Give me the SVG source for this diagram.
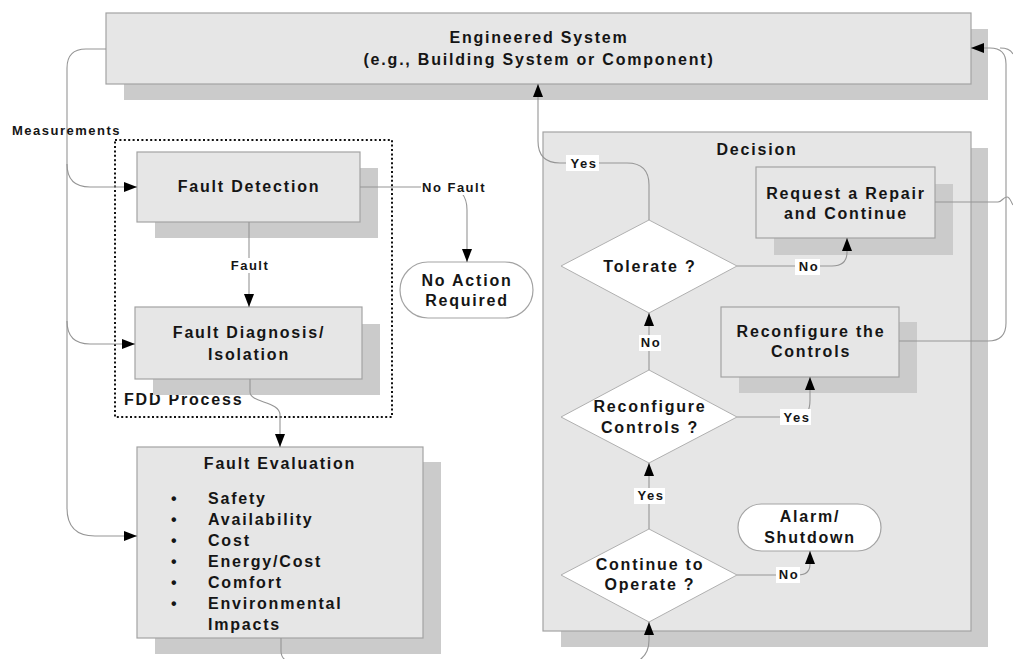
<svg xmlns="http://www.w3.org/2000/svg" width="1013" height="659" viewBox="0 0 1013 659">
<defs>
<style>
.box{fill:#e6e6e6;stroke:#a3a3a3;stroke-width:1.2}
.sh{fill:#cbcbcb}
.pill{fill:#ffffff;stroke:#a3a3a3;stroke-width:1.2}
.dia{fill:#ffffff;stroke:#b0b0b0;stroke-width:1}
.t{font-family:"Liberation Sans",Arial,sans-serif;font-weight:bold;font-size:16px;letter-spacing:1.8px;fill:#151515;text-anchor:middle}
.ts{font-family:"Liberation Sans",Arial,sans-serif;font-weight:bold;font-size:13px;letter-spacing:1.5px;fill:#151515;text-anchor:middle}
.tl{text-anchor:start}
.c{fill:none;stroke:#959595;stroke-width:1.1}
.lb{fill:#ffffff}
</style>
<marker id="ah" viewBox="0 0 13 10" refX="13" refY="5" markerWidth="13" markerHeight="10" markerUnits="userSpaceOnUse" orient="auto">
<path d="M0,0 L13,5 L0,10 z" fill="#000"/>
</marker>
</defs>
<rect width="1013" height="659" fill="#ffffff"/>

<g id="engineered-system">
<rect class="sh" x="124" y="29" width="864" height="71"/>
<rect class="box" x="106" y="13" width="865" height="71"/>
<text class="t" x="539" y="43">Engineered System</text>
<text class="t" x="539" y="65">(e.g., Building System or Component)</text>
</g>

<g id="fdd-process">
<rect x="115" y="140" width="277" height="277" fill="none" stroke="#111" stroke-width="2" stroke-dasharray="2 2.4"/>
<text class="t tl" x="124" y="405">FDD Process</text>
</g>

<g id="fault-detection">
<rect class="sh" x="155" y="168" width="223" height="70"/>
<rect class="box" x="137" y="152" width="223" height="70"/>
<text class="t" x="249" y="192">Fault Detection</text>
</g>

<g id="fault-diagnosis">
<rect class="sh" x="153" y="324" width="227" height="71"/>
<rect class="box" x="135" y="307" width="227" height="72"/>
<text class="t" x="249" y="338">Fault Diagnosis/</text>
<text class="t" x="249" y="360">Isolation</text>
</g>

<g id="no-action">
<rect class="pill" x="400" y="262" width="133" height="56" rx="28" ry="28"/>
<text class="t" x="467" y="286">No Action</text>
<text class="t" x="467" y="306">Required</text>
</g>

<g id="fault-evaluation">
<rect class="sh" x="155" y="462" width="286" height="192"/>
<rect class="box" x="137" y="447" width="286" height="191"/>
<text class="t" x="280" y="469">Fault Evaluation</text>
<text class="t tl" x="171" y="504">•</text>
<text class="t tl" x="171" y="525">•</text>
<text class="t tl" x="171" y="546">•</text>
<text class="t tl" x="171" y="567">•</text>
<text class="t tl" x="171" y="588">•</text>
<text class="t tl" x="171" y="609">•</text>
<text class="t tl" x="208" y="504">Safety</text>
<text class="t tl" x="208" y="525">Availability</text>
<text class="t tl" x="208" y="546">Cost</text>
<text class="t tl" x="208" y="567">Energy/Cost</text>
<text class="t tl" x="208" y="588">Comfort</text>
<text class="t tl" x="208" y="609">Environmental</text>
<text class="t tl" x="208" y="630">Impacts</text>
</g>

<g id="decision">
<rect class="sh" x="561" y="148" width="427" height="499"/>
<rect class="box" x="543" y="132" width="428" height="499"/>
<text class="t" x="757" y="155">Decision</text>
</g>

<g id="request-repair">
<rect class="sh" x="774" y="184" width="179" height="71"/>
<rect class="box" x="756" y="167" width="179" height="71"/>
<text class="t" x="846" y="199">Request a Repair</text>
<text class="t" x="846" y="219">and Continue</text>
</g>

<g id="reconfigure-the-controls">
<rect class="sh" x="739" y="322" width="178" height="71"/>
<rect class="box" x="721" y="307" width="178" height="70"/>
<text class="t" x="811" y="337">Reconfigure the</text>
<text class="t" x="811" y="357">Controls</text>
</g>

<g id="tolerate">
<polygon class="dia" points="649,220 737,266 649,313 561,266"/>
<text class="t" x="650" y="272">Tolerate ?</text>
</g>

<g id="reconfigure-controls">
<polygon class="dia" points="649,370 737,417 649,463 561,417"/>
<text class="t" x="650" y="412">Reconfigure</text>
<text class="t" x="650" y="433">Controls ?</text>
</g>

<g id="continue-to-operate">
<polygon class="dia" points="649,529 737,575 649,622 561,575"/>
<text class="t" x="650" y="570">Continue to</text>
<text class="t" x="650" y="590">Operate ?</text>
</g>

<g id="alarm-shutdown">
<rect class="pill" x="738" y="504" width="143" height="47" rx="23.5" ry="23.5"/>
<text class="t" x="810" y="522">Alarm/</text>
<text class="t" x="810" y="543">Shutdown</text>
</g>

<g id="connectors">
<path class="c" d="M106,49 H86 Q67,49 67,68 V164 Q67,187 90,187 H137" marker-end="url(#ah)"/>
<path class="c" d="M67,164 V321 Q67,344 90,344 H135" marker-end="url(#ah)"/>
<path class="c" d="M67,321 V508 Q67,536 95,536 H137" marker-end="url(#ah)"/>
<path class="c" d="M360,187 H447 C460,187 467,196 467,210 V262" marker-end="url(#ah)"/>
<path class="c" d="M249,222 V307" marker-end="url(#ah)"/>
<path class="c" d="M250,379 V392 C250,403 280,401 280,415 V447" marker-end="url(#ah)"/>
<path class="c" d="M281,638 V651 Q281,659 289,662"/>
<path class="c" d="M649,220 V185 Q649,163 627,163 H560 Q538,163 538,141 V84" marker-end="url(#ah)"/>
<path class="c" d="M737,266 H832 Q847,266 847,252 V238" marker-end="url(#ah)"/>
<path class="c" d="M649,370 V313" marker-end="url(#ah)"/>
<path class="c" d="M737,417 H798 Q810,417 810,400 V377" marker-end="url(#ah)"/>
<path class="c" d="M649,529 V463" marker-end="url(#ah)"/>
<path class="c" d="M737,575 H798 Q810,575 810,564 V551" marker-end="url(#ah)"/>
<path class="c" d="M636,662 Q649,656 649,640 V622" marker-end="url(#ah)"/>
<path class="c" d="M899,341 H988 Q1006,341 1006,323 V64 Q1006,48 990,48 H971" marker-end="url(#ah)"/>
<path class="c" d="M1000,48 Q1010,48 1013,54"/>
<path class="c" d="M935,202 H998 C1002,202 1003,197 1007,197 C1010,197 1011,202 1013,205"/>
<rect class="lb" x="421" y="180" width="65" height="15"/>
<text class="ts" x="454" y="192">No Fault</text>
<rect class="lb" x="232" y="258" width="34" height="15"/>
<text class="ts" x="250" y="270">Fault</text>
<rect class="lb" x="566" y="155" width="33" height="16"/>
<text class="ts" x="584" y="168">Yes</text>
<rect class="lb" x="795" y="259" width="25" height="16"/>
<text class="ts" x="809" y="271">No</text>
<rect class="lb" x="639" y="335" width="22" height="16"/>
<text class="ts" x="651" y="347">No</text>
<rect class="lb" x="780" y="409" width="31" height="16"/>
<text class="ts" x="797" y="422">Yes</text>
<rect class="lb" x="634" y="488" width="31" height="16"/>
<text class="ts" x="651" y="500">Yes</text>
<rect class="lb" x="776" y="567" width="24" height="16"/>
<text class="ts" x="789" y="579">No</text>
<text class="ts tl" x="12" y="135">Measurements</text>
</g>
</svg>
